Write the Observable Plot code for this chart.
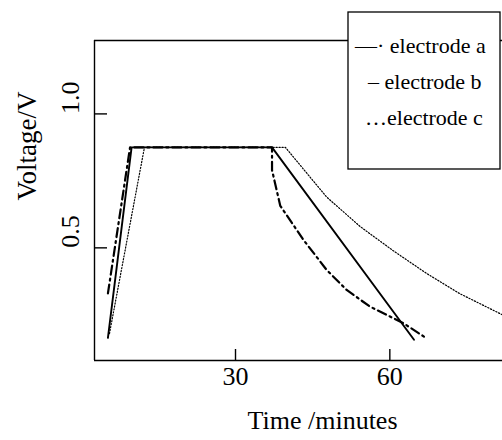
<!DOCTYPE html>
<html>
<head>
<meta charset="utf-8">
<script src="https://cdn.jsdelivr.net/npm/d3@7"></script>
<script src="https://cdn.jsdelivr.net/npm/@observablehq/plot@0.6"></script>
<style>
  html, body { margin: 0; padding: 0; background: #fff; }
  #chart { position: relative; width: 502px; height: 440px; overflow: hidden; }
</style>
</head>
<body>
<div id="chart"></div>
<script>
// Electrode a (dash-dot)
const aTime = [5.2, 9.5, 37.1, 37.1, 38.7, 43.2, 47.7, 51.6, 56.1, 62.6, 67.1];
const aVolt = [0.33, 0.875, 0.875, 0.79, 0.657, 0.53, 0.418, 0.343, 0.281, 0.219, 0.163];
// Electrode b (solid)
const bTime = [5.2, 9.8, 37.1, 64.7];
const bVolt = [0.164, 0.875, 0.875, 0.157];
// Electrode c (dotted)
const cTime = [5.5, 12.3, 39.7, 47.7, 54.2, 60.6, 67.1, 73.5, 81.9];
const cVolt = [0.18, 0.875, 0.875, 0.69, 0.58, 0.49, 0.405, 0.33, 0.25];

const xTicks = [30, 60];
const yTicks = [0.5, 1.0];
const legendLabels = ["—· electrode a", "– electrode b", "…electrode c"];

const toRows = (t, v) => t.map((x, i) => ({time: x, volt: v[i]}));
const A = toRows(aTime, aVolt), B = toRows(bTime, bVolt), C = toRows(cTime, cVolt);

const W = 502, H = 440;
const mL = 94, mT = 40, mR = 0, mB = 80;
const pw = W - mL - mR, ph = H - mT - mB;
const font = "Liberation Serif, Times New Roman, serif";
const xDom = [2.59, 81.9], yDom = [0.0795, 1.274];

const plot = Plot.plot({
  width: W, height: H,
  marginLeft: mL, marginTop: mT, marginRight: mR, marginBottom: mB,
  style: {fontFamily: font, fontSize: "25px", background: "white", overflow: "visible"},
  x: {domain: xDom, axis: null},
  y: {domain: yDom, axis: null},
  marks: [
    Plot.ruleX(xTicks, {x: d => d, insetTop: ph - 11, stroke: "black", strokeWidth: 1.4}),
    Plot.ruleY(yTicks, {y: d => d, insetRight: pw - 13, stroke: "black", strokeWidth: 1.4}),
    Plot.text(xTicks, {x: d => d, text: d => String(d), frameAnchor: "bottom", dy: 24, fontSize: 26}),
    Plot.text(yTicks, {y: d => d, text: d => d.toFixed(1), frameAnchor: "left", dx: -24, rotate: -90, fontSize: 26}),
    Plot.text(["Time /minutes"], {text: d => d, frameAnchor: "bottom", dx: 24, dy: 68, fontSize: 26}),
    Plot.text(["Voltage/V"], {text: d => d, frameAnchor: "left", dx: -67, rotate: -90, fontSize: 27}),
    Plot.line(C, {x: "time", y: "volt", stroke: "black", strokeWidth: 1.2, strokeDasharray: "1.2,1.8"}),
    Plot.line(A, {x: "time", y: "volt", stroke: "black", strokeWidth: 2.2, strokeDasharray: "9,4,2,4"}),
    Plot.line(B, {x: "time", y: "volt", stroke: "black", strokeWidth: 1.9}),
    Plot.ruleY([yDom[1]], {stroke: "black", strokeWidth: 1.4}),
    Plot.ruleY([yDom[0]], {stroke: "black", strokeWidth: 1.4}),
    Plot.ruleX([xDom[0]], {stroke: "black", strokeWidth: 1.4})
  ]
});
document.getElementById("chart").appendChild(plot);

// Legend box (drawn on top of the chart, extends above the frame)
const svg = d3.select(plot);
const lg = svg.append("g").attr("text-anchor", "start");
lg.append("rect").attr("x", 348).attr("y", 12).attr("width", 152).attr("height", 157)
  .attr("fill", "white").attr("stroke", "black").attr("stroke-width", 1.3);
const legendX = [355, 368, 365];
legendLabels.forEach((t, i) => {
  lg.append("text").attr("x", legendX[i]).attr("y", 53 + i * 36)
    .attr("font-family", font).attr("font-size", 22)
    .attr("fill", "black").text(t);
});
</script>
</body>
</html>
